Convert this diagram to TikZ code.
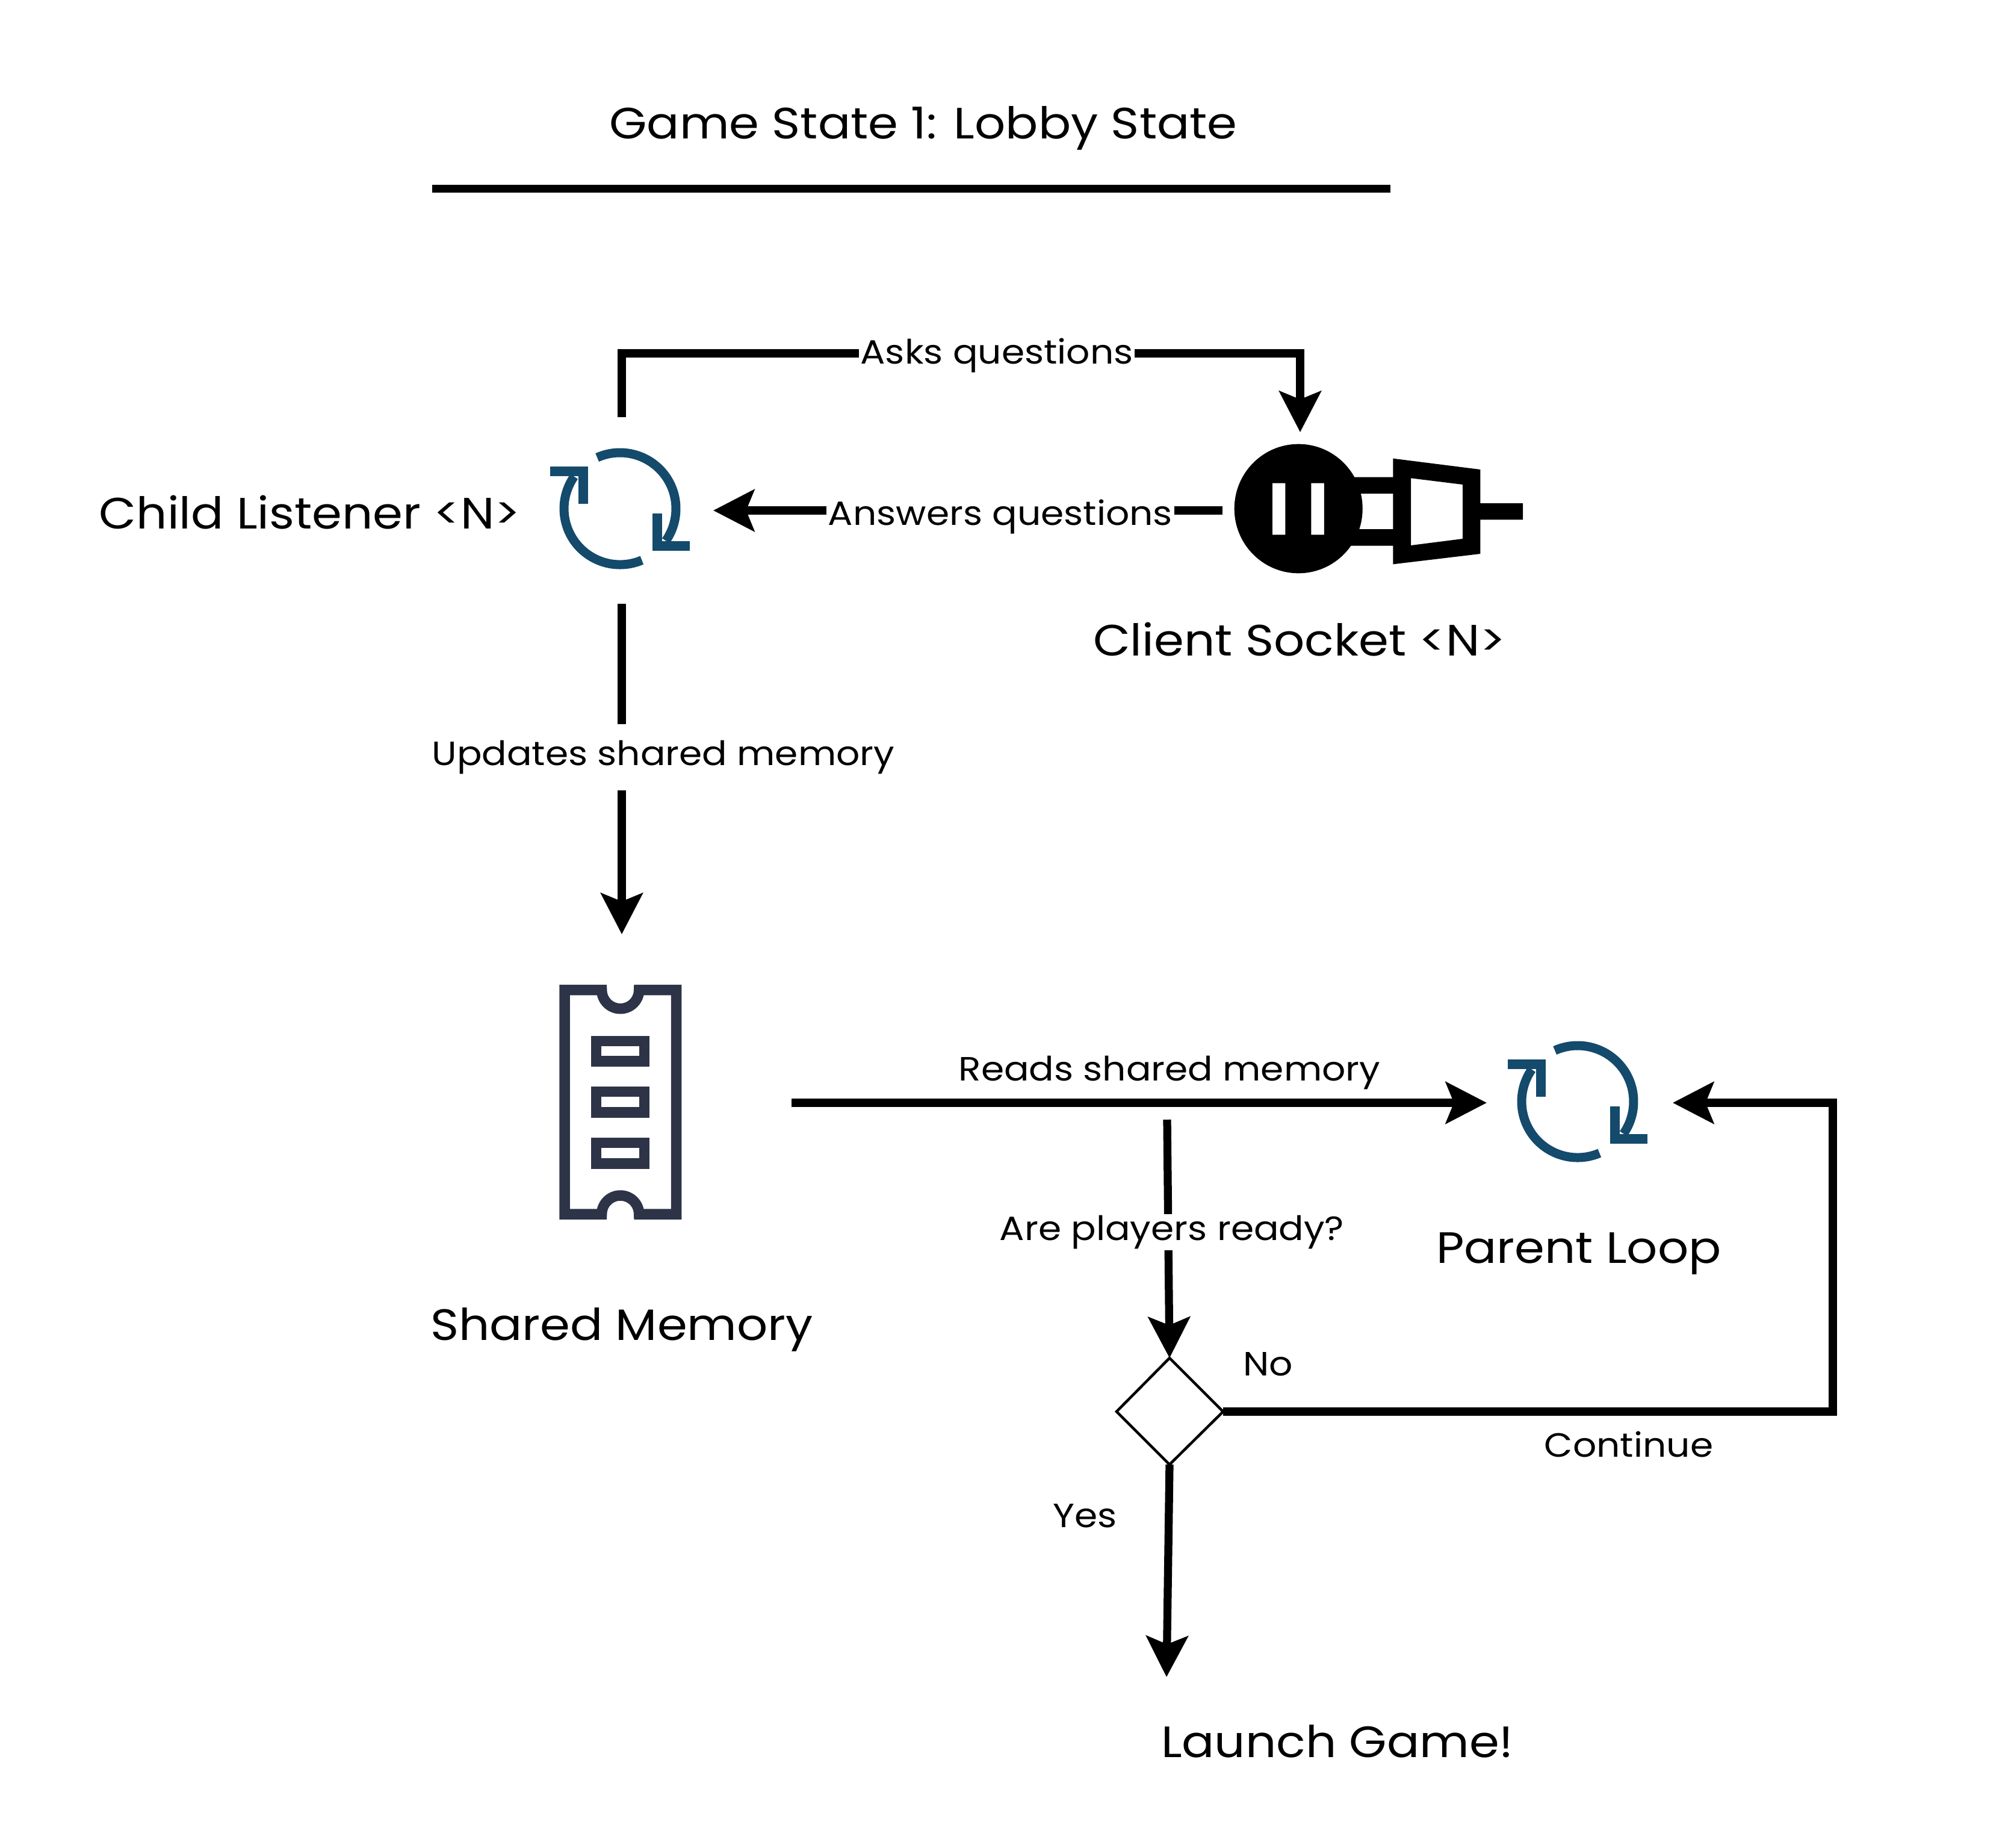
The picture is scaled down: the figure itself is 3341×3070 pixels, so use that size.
\documentclass[tikz,border=0pt]{standalone}
\usepackage{fontspec}
\setmainfont[FakeStretch=1.1]{Poppins}
\usetikzlibrary{arrows.meta}
\definecolor{loopblue}{HTML}{144A6B}
\definecolor{memnavy}{HTML}{2E3447}
\tikzset{
  x=0.02cm,y=0.02cm,
  conn/.style={line width=0.265cm,-{Stealth[length=1.36cm,width=1.38cm,inset=0.27cm]}},
  big/.style={font=\fontsize{41.5}{48}\selectfont,inner sep=0pt},
  small/.style={font=\fontsize{31.8}{37}\selectfont,inner sep=0pt},
  lbl/.style={small,fill=white,inner xsep=1.5pt,inner ysep=1pt},
}
\newcommand{\loopicon}[1]{%
 \begin{scope}[shift={#1}]
  \draw[loopblue,line width=0.3cm] (114:93) arc[start angle=114,end angle=-35,radius=93];
  \draw[loopblue,line width=0.3cm] (-67:93) arc[start angle=-67,end angle=-215,radius=93];
  \draw[loopblue,line width=0.32cm] (-116,62)--(-61.5,62)--(-61.5,8);
  \draw[loopblue,line width=0.32cm] (116,-62)--(61.5,-62)--(61.5,-8);
 \end{scope}}
\begin{document}
\begin{tikzpicture}
\useasboundingbox (0,0) rectangle (3341,-3070);
\fill[white] (0,0) rectangle (3341,-3070);
% title
\node[big] (title) at (1534,-213) {Game State 1: Lobby State};
\coordinate (ruleL) at (718,-313); \coordinate (ruleR) at (2310,-313);
\draw[line width=0.26cm] (ruleL)--(ruleR);
% icons
\loopicon{(1030,-845)}
\loopicon{(2621,-1830)}
% plug
\begin{scope}[shift={(2000,-700)},xscale=0.3699,yscale=1/3]
 \fill[even odd rule] (600,-278)--(850,-278)--(850,-185)--(1242,-240)--(1242,-408)--(1433,-408)--(1433,-490)--(1242,-490)--(1242,-660)--(850,-712)--(850,-620)--(600,-620)--cycle
   (650,-360)--(850,-360)--(850,-537)--(650,-537)--cycle
   (930,-283)--(1163,-315)--(1163,-585)--(930,-618)--cycle;
 \fill[even odd rule] (425,-435) ellipse[x radius=288,y radius=322]
   (308,-308) rectangle (366,-565) (482,-308) rectangle (540,-565);
\end{scope}
% memory
\begin{scope}[shift={(880,-1600)},scale=1/3]
 \draw[memnavy,line width=0.35cm] (174,-134)--(359,-134) arc[start angle=180,end angle=360,radius=93]--(731,-134)--(731,-1251)--(545,-1251) arc[start angle=0,end angle=180,radius=93]--(174,-1251)--cycle;
 \draw[memnavy,line width=0.35cm] (331,-388) rectangle (572,-489);
 \draw[memnavy,line width=0.35cm] (331,-641) rectangle (572,-744);
 \draw[memnavy,line width=0.35cm] (331,-896) rectangle (572,-999);
\end{scope}
% labels
\node[big] (child) at (515,-851) {Child Listener <N>};
\node[big] (client) at (2159,-1062) {Client Socket <N>};
\node[big] (shared) at (1033,-2209) {Shared Memory};
\node[big] (parent) at (2623,-2083) {Parent Loop};
\node[big] (launch) at (2222,-2893) {Launch Game!};
% diamond
\coordinate (dT) at (1943,-2256); \coordinate (dR) at (2032,-2345);
\coordinate (dB) at (1943,-2433); \coordinate (dL) at (1855,-2345);
\draw[line width=0.09cm] (dT)--(dR)--(dB)--(dL)--cycle;
% connectors
\coordinate (a1) at (1033,-693); \coordinate (a2) at (1033,-587); \coordinate (a3) at (2160,-587); \coordinate (a4) at (2160,-718);
\draw[conn] (a1)--(a2)--(a3)--(a4);
\node[lbl] at (1656,-590) {Asks questions};
\coordinate (b1) at (2031,-848); \coordinate (b2) at (1185,-848);
\draw[conn] (b1)--(b2);
\node[lbl] at (1662,-858) {Answers questions};
\coordinate (c1) at (1033,-1003); \coordinate (c2) at (1033,-1552);
\draw[conn] (c1)--(c2);
\node[lbl,minimum height=2.2cm] at (1102,-1258) {Updates shared memory};
\coordinate (d1) at (1315,-1832); \coordinate (d2) at (2470,-1832);
\draw[conn] (d1)--(d2);
\node[small] at (1943,-1782) {Reads shared memory};
\coordinate (e1) at (1939,-1860);
\draw[conn] (e1)--(dT);
\node[lbl] at (1947,-2047) {Are players ready?};
\coordinate (f1) at (3045,-2345); \coordinate (f2) at (3045,-1832); \coordinate (f3) at (2779,-1832);
\draw[conn] (dR)--(f1)--(f2)--(f3);
\node[small] at (2706,-2399) {Continue};
\node[small] at (2107,-2266) {No};
\coordinate (g2) at (1938,-2786);
\draw[conn] (dB)--(g2);
\node[small] at (1803,-2518) {Yes};
\end{tikzpicture}
\end{document}
